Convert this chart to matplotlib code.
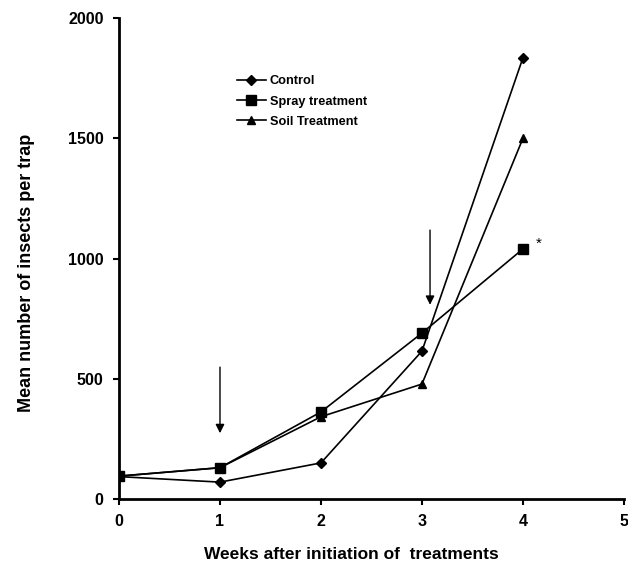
import matplotlib
matplotlib.use("Agg")
import matplotlib.pyplot as plt

plt.rcParams['font.family'] = ['Liberation Sans', 'DejaVu Sans']

weeks = [0, 1, 2, 3, 4]
control = [93, 70, 150, 615, 1835]
spray = [95, 130, 362, 690, 1040]
soil = [95, 130, 342, 478, 1500]
xticks = [0, 1, 2, 3, 4, 5]
yticks = [0, 500, 1000, 1500, 2000]

fig = plt.figure(figsize=(6.28, 5.67), dpi=100)
ax = fig.add_axes([0.1895, 0.120, 0.804, 0.848])

ax.plot(weeks, control, color='black', lw=1.2, marker='D', ms=5, label='Control')
ax.plot(weeks, spray, color='black', lw=1.2, marker='s', ms=7, label='Spray treatment')
ax.plot(weeks, soil, color='black', lw=1.2, marker='^', ms=6, label='Soil Treatment')

# arrows marking treatment applications
ax.annotate('', xy=(1, 262), xytext=(1, 560),
            arrowprops=dict(arrowstyle='-|>', color='black', lw=1, mutation_scale=13))
ax.annotate('', xy=(3.08, 796), xytext=(3.08, 1130),
            arrowprops=dict(arrowstyle='-|>', color='black', lw=1, mutation_scale=13))
ax.text(4.13, 1060, '*', fontsize=11, ha='left', va='center')

ax.set_xlim(0, 5)
ax.set_ylim(0, 2000)
ax.set_xticks(xticks)
ax.set_yticks(yticks)
ax.set_xticklabels([str(v) for v in xticks], fontweight='bold', fontsize=11.5)
ax.set_yticklabels([str(v) for v in yticks], fontweight='bold', fontsize=11.5)
ax.tick_params(direction='out', length=4, width=1.5, pad=7)
for s in ['top', 'right']:
    ax.spines[s].set_visible(False)
for s in ['left', 'bottom']:
    ax.spines[s].set_linewidth(2)

ax.set_xlabel('Weeks after initiation of  treatments', fontweight='bold', fontsize=12.5,
              labelpad=13, x=0.46)
ax.set_ylabel('Mean number of insects per trap', fontweight='bold', fontsize=13,
              labelpad=24, y=0.47)

ax.legend(loc='upper left', bbox_to_anchor=(0.21, 0.905), frameon=False,
          handlelength=2.3, labelspacing=0.65, handletextpad=0.3,
          prop={'weight': 'bold', 'size': 9.2})

fig.savefig('out.png', dpi=100)
